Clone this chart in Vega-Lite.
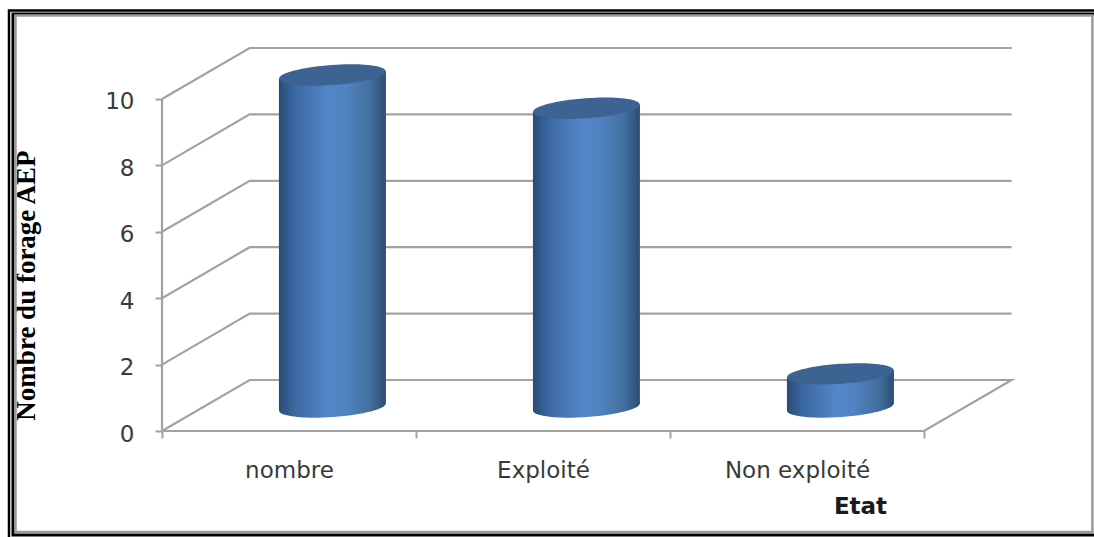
{
  "$schema": "https://vega.github.io/schema/vega-lite/v6.json",
  "width": 850,
  "height": 384,
  "autosize": "none",
  "padding": {"left": 162, "top": 47, "right": 82, "bottom": 106},
  "background": "white",
  "config": {"view": {"stroke": null}},
  "datasets": {
    "walls": [
      {"line": "floor", "step": 1, "cat": 0, "value": 0, "depth": 0},
      {"line": "floor", "step": 2, "cat": 3, "value": 0, "depth": 0},
      {"line": "floor", "step": 3, "cat": 3, "value": 0, "depth": 1},
      {"line": "floor", "step": 4, "cat": 0, "value": 0, "depth": 1},
      {"line": "floor", "step": 5, "cat": 0, "value": 0, "depth": 0},
      {"line": "axis", "step": 1, "cat": 0, "value": 0, "depth": 0},
      {"line": "axis", "step": 2, "cat": 0, "value": 10, "depth": 0},
      {"line": "g2", "step": 1, "cat": 0, "value": 2, "depth": 0},
      {"line": "g2", "step": 2, "cat": 0, "value": 2, "depth": 1},
      {"line": "g2", "step": 3, "cat": 3, "value": 2, "depth": 1},
      {"line": "g4", "step": 1, "cat": 0, "value": 4, "depth": 0},
      {"line": "g4", "step": 2, "cat": 0, "value": 4, "depth": 1},
      {"line": "g4", "step": 3, "cat": 3, "value": 4, "depth": 1},
      {"line": "g6", "step": 1, "cat": 0, "value": 6, "depth": 0},
      {"line": "g6", "step": 2, "cat": 0, "value": 6, "depth": 1},
      {"line": "g6", "step": 3, "cat": 3, "value": 6, "depth": 1},
      {"line": "g8", "step": 1, "cat": 0, "value": 8, "depth": 0},
      {"line": "g8", "step": 2, "cat": 0, "value": 8, "depth": 1},
      {"line": "g8", "step": 3, "cat": 3, "value": 8, "depth": 1},
      {"line": "g10", "step": 1, "cat": 0, "value": 10, "depth": 0},
      {"line": "g10", "step": 2, "cat": 0, "value": 10, "depth": 1},
      {"line": "g10", "step": 3, "cat": 3, "value": 10, "depth": 1}
    ],
    "forages": [
      {"etat": "nombre", "cat": 0.5, "nombre": 10},
      {"etat": "Exploité", "cat": 1.5, "nombre": 9},
      {"etat": "Non exploité", "cat": 2.5, "nombre": 1}
    ]
  },
  "encoding": {
    "x": {
      "type": "quantitative",
      "scale": {"domain": [0, 3.3465], "nice": false, "zero": false},
      "axis": {
        "values": [0, 0.5, 1, 1.5, 2, 2.5, 3],
        "domain": false,
        "grid": false,
        "tickSize": 7,
        "tickWidth": 2,
        "tickColor": "#a2a2a2",
        "tickOpacity": {"condition": {"test": "datum.value % 1 === 0", "value": 1}, "value": 0},
        "labelExpr": "datum.value === 0.5 ? 'nombre' : datum.value === 1.5 ? 'Exploité' : datum.value === 2.5 ? 'Non exploité' : ''",
        "labelFont": "DejaVu Sans",
        "labelFontSize": 23,
        "labelColor": "#3a3a3a",
        "labelPadding": 21,
        "labelOverlap": false,
        "labelFlush": false,
        "title": "Etat",
        "titleFont": "DejaVu Sans",
        "titleFontWeight": "bold",
        "titleFontSize": 23,
        "titleColor": "#1a1a1a",
        "titleAlign": "center",
        "titleX": 698,
        "titleY": 75,
        "titleBaseline": "middle"
      }
    },
    "y": {
      "type": "quantitative",
      "scale": {"domain": [0, 11.566], "nice": false, "zero": false},
      "axis": {
        "values": [0, 2, 4, 6, 8, 10],
        "domain": false,
        "grid": false,
        "tickSize": 7,
        "tickWidth": 2,
        "tickColor": "#a2a2a2",
        "labelFont": "DejaVu Sans",
        "labelFontSize": 23,
        "labelColor": "#3a3a3a",
        "labelPadding": 21,
        "labelOffset": 3,
        "title": "Nombre du forage AEP",
        "titleFont": "Liberation Serif",
        "titleFontWeight": "bold",
        "titleFontSize": 27,
        "titleColor": "#000000",
        "titleAngle": -90,
        "titleAlign": "center",
        "titleBaseline": "middle",
        "titleX": -136,
        "titleY": 238
      }
    }
  },
  "layer": [
    {
      "data": {"name": "walls"},
      "transform": [
        {"calculate": "datum.cat + 0.345 * datum.depth", "as": "px"},
        {"calculate": "datum.value + 1.536 * datum.depth", "as": "py"}
      ],
      "mark": {"type": "line", "color": "#a2a2a2", "strokeWidth": 2.2, "interpolate": "linear"},
      "encoding": {
        "x": {"field": "px", "type": "quantitative"},
        "y": {"field": "py", "type": "quantitative"},
        "detail": {"field": "line"},
        "order": {"field": "step", "type": "quantitative"}
      }
    },
    {
      "data": {"name": "forages"},
      "transform": [
        {"calculate": "datum.cat + 0.171", "as": "cx"},
        {"calculate": "0.722", "as": "base"}
      ],
      "mark": {
        "type": "point",
        "filled": true,
        "opacity": 1,
        "strokeWidth": 0,
        "size": 11449,
        "shape": "M-0.9976,0.0698 A1,0.187 -4 1 1 0.9976,-0.0698 A1,0.187 -4 1 1 -0.9976,0.0698 Z",
        "fill": {
          "gradient": "linear", "x1": 0, "x2": 1, "y1": 0, "y2": 0,
          "stops": [
            {"offset": 0, "color": "#2a4a75"},
            {"offset": 0.14, "color": "#3a679f"},
            {"offset": 0.45, "color": "#5286c9"},
            {"offset": 0.62, "color": "#5083c3"},
            {"offset": 0.85, "color": "#44709f"},
            {"offset": 1, "color": "#2c4c74"}
          ]
        }
      },
      "encoding": {
        "x": {"field": "cx", "type": "quantitative"},
        "y": {"field": "base", "type": "quantitative"}
      }
    },
    {
      "data": {"name": "forages"},
      "transform": [
        {"calculate": "datum.cat + 0.171", "as": "cx"},
        {"calculate": "[-1, 1]", "as": "side"},
        {"flatten": ["side"]},
        {"calculate": "datum.cx + 0.2106 * datum.side", "as": "edge"},
        {"calculate": "datum.nombre + 0.722 + 0.105 * datum.side", "as": "haut"},
        {"calculate": "0.722 + 0.105 * datum.side", "as": "bas"}
      ],
      "mark": {
        "type": "area",
        "interpolate": "linear",
        "fill": {
          "gradient": "linear", "x1": 0, "x2": 1, "y1": 0, "y2": 0,
          "stops": [
            {"offset": 0, "color": "#2a4a75"},
            {"offset": 0.14, "color": "#3a679f"},
            {"offset": 0.45, "color": "#5286c9"},
            {"offset": 0.62, "color": "#5083c3"},
            {"offset": 0.85, "color": "#44709f"},
            {"offset": 1, "color": "#2c4c74"}
          ]
        }
      },
      "encoding": {
        "x": {"field": "edge", "type": "quantitative"},
        "y": {"field": "haut", "type": "quantitative", "stack": null},
        "y2": {"field": "bas"},
        "detail": {"field": "etat"}
      }
    },
    {
      "data": {"name": "forages"},
      "transform": [
        {"calculate": "datum.cat + 0.171", "as": "cx"},
        {"calculate": "datum.nombre + 0.722", "as": "haut"}
      ],
      "mark": {
        "type": "point",
        "filled": true,
        "opacity": 1,
        "strokeWidth": 0,
        "size": 11449,
        "shape": "M-0.9976,0.0698 A1,0.187 -4 1 1 0.9976,-0.0698 A1,0.187 -4 1 1 -0.9976,0.0698 Z",
        "fill": "#3c6392"
      },
      "encoding": {
        "x": {"field": "cx", "type": "quantitative"},
        "y": {"field": "haut", "type": "quantitative"}
      }
    },
    {
      "data": {"values": [{}]},
      "mark": {"type": "rect", "fill": null, "stroke": "#000000", "strokeWidth": 2.5, "clip": false},
      "encoding": {
        "x": {"datum": -0.6024},
        "x2": {"datum": 3.693},
        "y": {"datum": 12.666},
        "y2": {"datum": -3.584}
      }
    },
    {
      "data": {"values": [{}]},
      "mark": {"type": "rect", "fill": null, "stroke": "#000000", "strokeWidth": 3, "clip": false},
      "encoding": {
        "x": {"datum": -0.5866},
        "x2": {"datum": 3.693},
        "y": {"datum": 12.56},
        "y2": {"datum": -3.133}
      }
    },
    {
      "data": {"values": [{}]},
      "mark": {"type": "rect", "fill": null, "stroke": "#9a9a9a", "strokeWidth": 2.5, "clip": false},
      "encoding": {
        "x": {"datum": -0.5768},
        "x2": {"datum": 3.663},
        "y": {"datum": 12.515},
        "y2": {"datum": -3.042}
      }
    }
  ]
}
